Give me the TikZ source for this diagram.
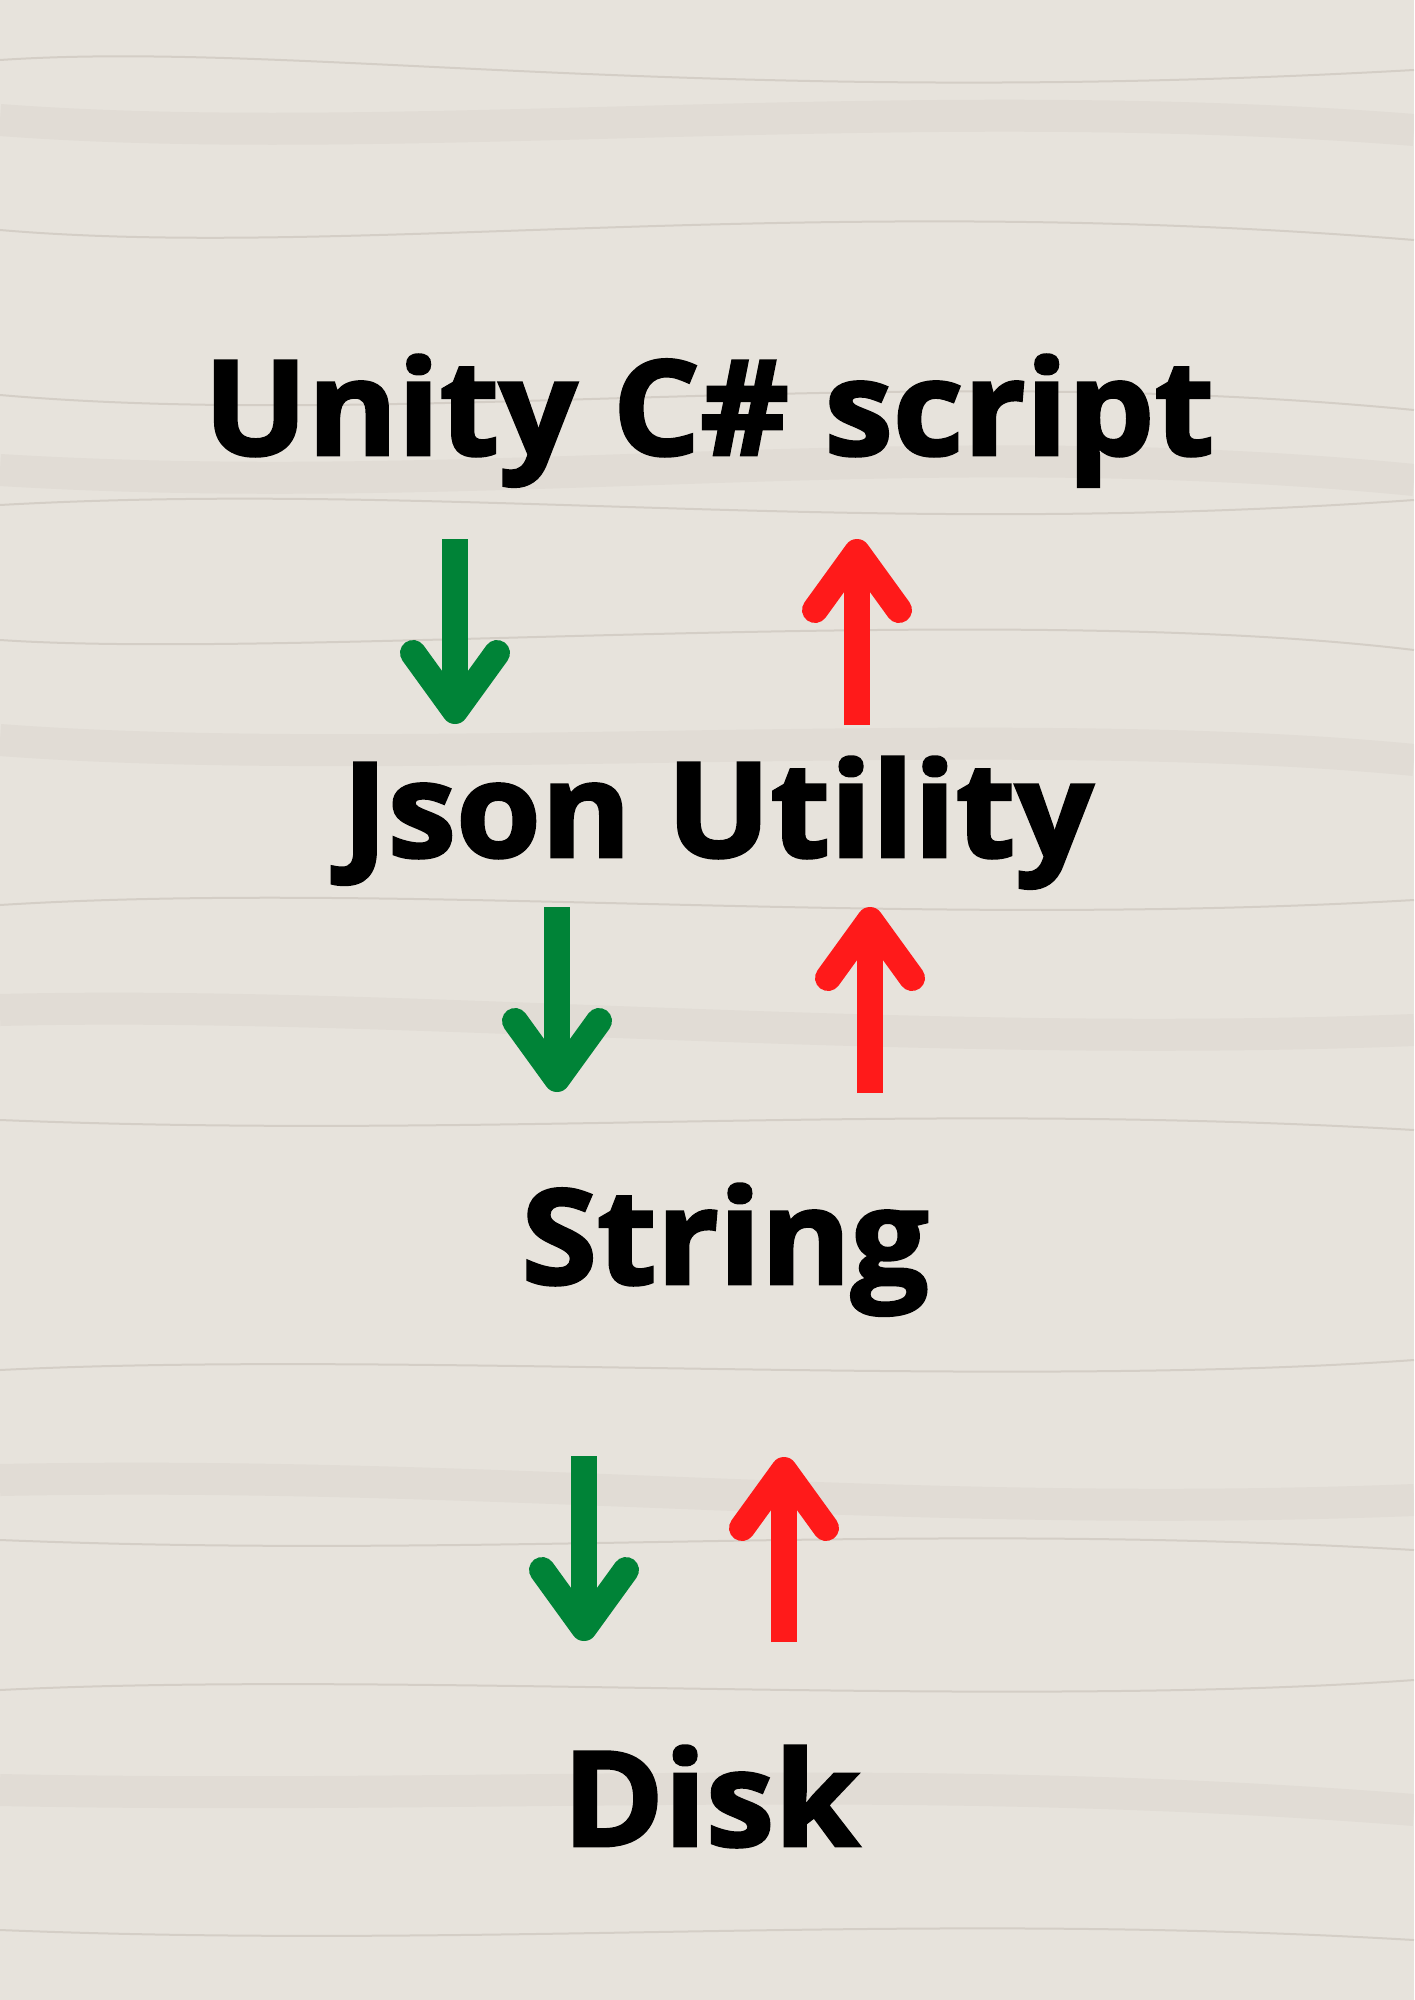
\documentclass[tikz,border=0pt]{standalone}
\usepackage{fontspec}
\setmainfont{Open Sans}
\newfontfamily\labelfont{Open Sans}[FakeStretch=1.04, FakeBold=2.2]
\usetikzlibrary{arrows.meta,calc,positioning}

\definecolor{woodbg}{HTML}{E7E3DC}
\definecolor{woodgrain}{HTML}{BDB6AC}
\definecolor{savegreen}{HTML}{008337}
\definecolor{loadred}{HTML}{FF1A1A}

\begin{document}
\begin{tikzpicture}[x=0.5pt, y=-0.5pt,
  lbl/.style={anchor=base, inner sep=0pt, font=\labelfont\bfseries\fontsize{66}{70}\selectfont},
  save/.style={draw=savegreen, line width=13pt, -{Straight Barb[round, length=29pt, width=42pt]}},
  load/.style={draw=loadred, line width=13pt, -{Straight Barb[round, length=29pt, width=42pt]}},
  grain/.style={woodgrain, line width=1pt, opacity=0.45},
  band/.style={woodgrain, line width=16pt, opacity=0.14}]

  \useasboundingbox (0,0) rectangle (1414,2000);
  \fill[woodbg] (0,0) rectangle (1414,2000);

  % wood grain
  \begin{scope}
    \clip (0,0) rectangle (1414,2000);
    \draw[band]  (0,120) .. controls (400,150) and (900,90) .. (1414,130);
    \draw[band]  (0,470) .. controls (500,500) and (900,430) .. (1414,480);
    \draw[band]  (0,740) .. controls (400,770) and (1000,720) .. (1414,760);
    \draw[band]  (0,1010) .. controls (400,1000) and (900,1050) .. (1414,1030);
    \draw[band]  (0,1480) .. controls (500,1470) and (900,1520) .. (1414,1500);
    \draw[band]  (0,1790) .. controls (500,1800) and (900,1770) .. (1414,1810);
    \draw[grain] (0,60) .. controls (300,40) and (700,110) .. (1414,70);
    \draw[grain] (0,230) .. controls (350,260) and (800,190) .. (1414,240);
    \draw[grain] (0,395) .. controls (400,430) and (900,360) .. (1414,410);
    \draw[grain] (0,505) .. controls (450,480) and (850,540) .. (1414,500);
    \draw[grain] (0,640) .. controls (300,660) and (1000,600) .. (1414,650);
    \draw[grain] (0,905) .. controls (400,880) and (900,930) .. (1414,900);
    \draw[grain] (0,1120) .. controls (500,1140) and (900,1100) .. (1414,1130);
    \draw[grain] (0,1370) .. controls (400,1350) and (1000,1390) .. (1414,1360);
    \draw[grain] (0,1540) .. controls (500,1560) and (900,1520) .. (1414,1550);
    \draw[grain] (0,1690) .. controls (400,1670) and (1000,1710) .. (1414,1680);
    \draw[grain] (0,1930) .. controls (500,1950) and (900,1910) .. (1414,1940);
  \end{scope}

  \node[lbl] (unity)  at (709,455)  {Unity C\# script};
  \node[lbl] (json)   at (718,857)  {Json Utility};
  \node[lbl] (string) at (725,1284) {String};
  \node[lbl] (disk)   at (711,1846) {Disk};

  \coordinate (save1 top) at (455,539);  \coordinate (save1 tip) at (455,724);
  \coordinate (load1 end) at (857,725);  \coordinate (load1 tip) at (857,539);
  \coordinate (save2 top) at (557,907);  \coordinate (save2 tip) at (557,1092);
  \coordinate (load2 end) at (870,1093); \coordinate (load2 tip) at (870,907);
  \coordinate (save3 top) at (584,1456); \coordinate (save3 tip) at (584,1641);
  \coordinate (load3 end) at (784,1642); \coordinate (load3 tip) at (784,1457);

  \draw[save] (save1 top) -- (save1 tip);
  \draw[load] (load1 end) -- (load1 tip);
  \draw[save] (save2 top) -- (save2 tip);
  \draw[load] (load2 end) -- (load2 tip);
  \draw[save] (save3 top) -- (save3 tip);
  \draw[load] (load3 end) -- (load3 tip);

\end{tikzpicture}
\end{document}
